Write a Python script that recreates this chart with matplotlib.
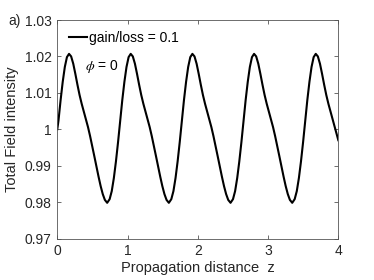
import matplotlib
matplotlib.use("Agg")
import matplotlib.pyplot as plt

plt.rcParams['font.family'] = ['Liberation Sans', 'DejaVu Sans']
plt.rcParams['mathtext.fontset'] = 'stix'

# Propagation distance z and total field intensity
z = [0.000, 0.017, 0.047, 0.077, 0.107, 0.137, 0.167, 0.197, 0.227, 0.257,
     0.287, 0.317, 0.347, 0.377, 0.407, 0.437, 0.467, 0.497, 0.527, 0.557,
     0.587, 0.617, 0.647, 0.677, 0.710,
     0.745, 0.775, 0.805, 0.835, 0.865, 0.895, 0.925, 0.955, 0.985, 1.015,
     1.045, 1.075, 1.105, 1.135, 1.165, 1.195, 1.225, 1.255, 1.285, 1.315,
     1.345, 1.375, 1.405, 1.435, 1.465, 1.495, 1.525, 1.555, 1.588,
     1.623, 1.653, 1.683, 1.713, 1.743, 1.773, 1.803, 1.833, 1.863, 1.893,
     1.923, 1.953, 1.983, 2.013, 2.043, 2.073, 2.103, 2.133, 2.163, 2.193,
     2.223, 2.253, 2.283, 2.313, 2.343, 2.373, 2.403, 2.433, 2.466,
     2.501, 2.531, 2.561, 2.591, 2.621, 2.651, 2.681, 2.711, 2.741, 2.771,
     2.801, 2.831, 2.861, 2.891, 2.921, 2.951, 2.981, 3.011, 3.041, 3.071,
     3.101, 3.131, 3.161, 3.191, 3.221, 3.251, 3.281, 3.311, 3.344,
     3.379, 3.409, 3.439, 3.469, 3.499, 3.529, 3.559, 3.589, 3.619, 3.649,
     3.679, 3.709, 3.739, 3.769, 3.799, 3.829, 3.859, 3.889, 3.919, 3.949,
     3.979, 4.000]
intensity = [1.0000, 1.0024, 1.0080, 1.0130, 1.0171, 1.0198, 1.0207, 1.0200, 1.0180, 1.0152,
             1.0122, 1.0094, 1.0070, 1.0049, 1.0028, 1.0006, 0.9981, 0.9954, 0.9926, 0.9898,
             0.9870, 0.9844, 0.9822, 0.9806, 0.9798,
             0.9808, 0.9830, 0.9866, 0.9912, 0.9965, 1.0024, 1.0080, 1.0130, 1.0171, 1.0198,
             1.0207, 1.0200, 1.0180, 1.0152, 1.0122, 1.0094, 1.0070, 1.0049, 1.0028, 1.0006,
             0.9981, 0.9954, 0.9926, 0.9898, 0.9870, 0.9844, 0.9822, 0.9806, 0.9798,
             0.9808, 0.9830, 0.9866, 0.9912, 0.9965, 1.0024, 1.0080, 1.0130, 1.0171, 1.0198,
             1.0207, 1.0200, 1.0180, 1.0152, 1.0122, 1.0094, 1.0070, 1.0049, 1.0028, 1.0006,
             0.9981, 0.9954, 0.9926, 0.9898, 0.9870, 0.9844, 0.9822, 0.9806, 0.9798,
             0.9808, 0.9830, 0.9866, 0.9912, 0.9965, 1.0024, 1.0080, 1.0130, 1.0171, 1.0198,
             1.0207, 1.0200, 1.0180, 1.0152, 1.0122, 1.0094, 1.0070, 1.0049, 1.0028, 1.0006,
             0.9981, 0.9954, 0.9926, 0.9898, 0.9870, 0.9844, 0.9822, 0.9806, 0.9798,
             0.9808, 0.9830, 0.9866, 0.9912, 0.9965, 1.0024, 1.0080, 1.0130, 1.0171, 1.0198,
             1.0207, 1.0200, 1.0180, 1.0152, 1.0122, 1.0094, 1.0070, 1.0049, 1.0028, 1.0006,
             0.9985, 0.9970]

xticks = [0, 1, 2, 3, 4]
xticklabels = ['0', '1', '2', '3', '4']
yticks = [0.97, 0.98, 0.99, 1.00, 1.01, 1.02, 1.03]
yticklabels = ['0.97', '0.98', '0.99', '1', '1.01', '1.02', '1.03']

W, H = 374, 280
fig = plt.figure(figsize=(W / 100, H / 100), dpi=100)
ax = fig.add_axes([57.3 / W, 1 - 238.5 / H, (338.3 - 57.3) / W, (238.5 - 20) / H])

ax.plot(z, intensity, color='black', lw=1.5, label='gain/loss = 0.1')

ax.set_xlim(0, 4)
ax.set_ylim(0.97, 1.03)
ax.set_xticks(xticks)
ax.set_xticklabels(xticklabels)
ax.set_yticks(yticks)
ax.set_yticklabels(yticklabels)

tc = '#262626'
for s in ax.spines.values():
    s.set_color('#555555')
    s.set_linewidth(0.6)
ax.tick_params(direction='in', length=3, width=0.6, color='#555555',
               labelsize=10, labelcolor=tc, top=True, right=True, pad=4)

ax.set_xlabel('Propagation distance  z', fontsize=10.5, color=tc, labelpad=2)
ax.set_ylabel('Total Field intensity', fontsize=10.5, color=tc, labelpad=4)

leg = ax.legend(loc='upper left', bbox_to_anchor=(0.042, 0.95), frameon=False,
                borderaxespad=0, borderpad=0, handlelength=1.3, handletextpad=0.15,
                fontsize=10)
for t in leg.get_texts():
    t.set_color('black')

ax.text(0.099, 0.785, r'$\phi$ = 0', transform=ax.transAxes, fontsize=10,
        va='center', ha='left', color='black')

fig.text(8 / W, 1 - 20.5 / H, 'a)', fontsize=10, va='center', ha='left', color=tc)

fig.savefig('out.png', dpi=100)
